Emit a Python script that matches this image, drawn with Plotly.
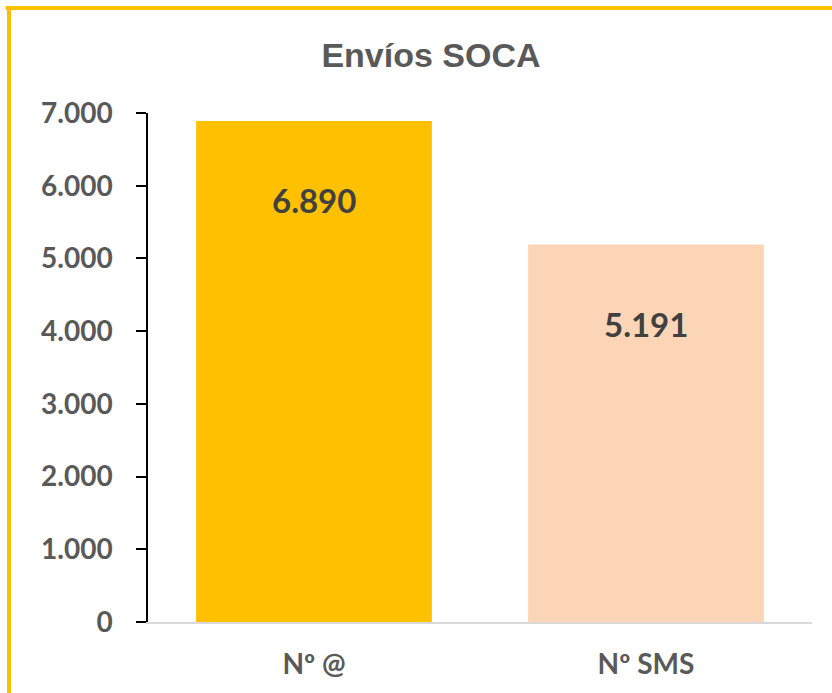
import plotly.graph_objects as go

categories = ["Nº @", "Nº SMS"]
values = [6890, 5191]
bar_colors = ["#FFC000", "#FBD5B5"]
y_ticks = [0, 1000, 2000, 3000, 4000, 5000, 6000, 7000]

W, H = 832, 693
L, R, T, B = 148, 20, 113, 71
pw, ph = W - L - R, H - T - B

fig = go.Figure()
fig.add_trace(go.Bar(
    x=categories, y=values, marker=dict(color=bar_colors, line=dict(width=0)),
    hoverinfo="skip", showlegend=False,
))

for c, v in zip(categories, values):
    fig.add_annotation(
        x=c, y=v, xref="x", yref="y", text=f"{v:,}".replace(",", "."),
        showarrow=False, yanchor="middle", yshift=-79,
        font=dict(family="Lato, Liberation Sans, Arial", size=33, color="#404040", weight="bold"),
    )

# outer yellow border (only top and left edges are visible)
bx = (9 - L) / pw
by = (H - B - 8) / ph
border = dict(color="#FFC000", width=4)
fig.add_shape(type="line", xref="paper", yref="paper", x0=bx - 0.005, x1=1.05, y0=by, y1=by, line=border, layer="above")
fig.add_shape(type="line", xref="paper", yref="paper", x0=bx, x1=bx, y0=-0.2, y1=by, line=border, layer="above")

fig.update_layout(
    width=W, height=H,
    margin=dict(l=L, r=R, t=T, b=B, pad=0),
    paper_bgcolor="white", plot_bgcolor="white",
    separators=",.",
    bargap=0.29,
    title=dict(
        text="<b>Envíos SOCA</b>", xref="container", yref="container",
        x=431 / W, y=1 - 55 / H, xanchor="center", yanchor="middle",
        font=dict(family="Liberation Sans, Arial", size=34, color="#595959"),
    ),
    xaxis=dict(
        showline=True, linecolor="#D9D9D9", linewidth=2, ticks="", showgrid=False,
        tickfont=dict(family="Lato, Liberation Sans, Arial", size=28, color="#595959", weight="bold"),
        ticklabelstandoff=16,
    ),
    yaxis=dict(
        range=[0, 7000], tickvals=y_ticks, tickformat=",d",
        showline=True, linecolor="black", linewidth=1.5,
        ticks="outside", ticklen=10, tickcolor="black", tickwidth=1.5,
        showgrid=False, zeroline=False,
        tickfont=dict(family="Lato, Liberation Sans, Arial", size=28, color="#595959", weight="bold"),
        ticklabelstandoff=18,
    ),
)

fig.write_html(
    "out.html",
    config={"displayModeBar": False},
    post_script="document.body.style.margin='0';document.body.style.overflow='hidden';",
)
